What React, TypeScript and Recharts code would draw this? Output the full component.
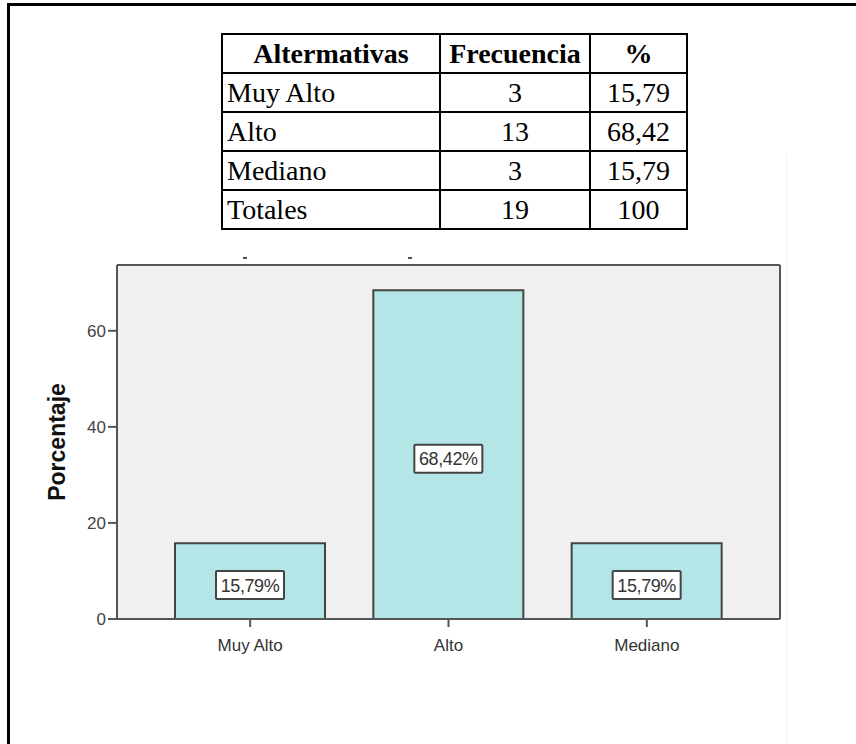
import { BarChart, Bar, XAxis, YAxis, CartesianGrid, LabelList } from 'recharts';

const categories = ['Muy Alto', 'Alto', 'Mediano'];
const percentages = [15.79, 68.42, 15.79];
const frequencies = [3, 13, 3];
const pctLabels = ['15,79', '68,42', '15,79'];
const yTicks = [0, 20, 40, 60];

const chartData = categories.map((name, i) => ({ name, value: percentages[i] }));

const tableRows = [
  ...categories.map((c, i) => [c, String(frequencies[i]), pctLabels[i]]),
  ['Totales', '19', '100'],
];

const axisColor = '#555';
const sans = 'Liberation Sans, Arial, sans-serif';

function ValueBox(props: any) {
  const { x, y, width, height, value } = props;
  const cx = x + width / 2;
  const cy = y + height / 2 + 4;
  const w = 68;
  const h = 28;
  const text = String(value.toFixed(2)).replace('.', ',') + '%';
  return (
    <g>
      <rect x={cx - w / 2} y={cy - h / 2} width={w} height={h} fill="#fff" stroke="#444" strokeWidth={2} rx={1} />
      <text x={cx} y={cy + 6.5} textAnchor="middle" fontSize={18} fill="#333" fontFamily={sans} letterSpacing={-0.4}>
        {text}
      </text>
    </g>
  );
}

const cell: React.CSSProperties = {
  border: '2px solid #000',
  padding: '0 4px',
  height: 37,
  lineHeight: '37px',
};

export default function App() {
  return (
    <div style={{ position: 'absolute', left: 0, top: 0, width: 856, height: 744, background: '#fff', overflow: 'hidden' }}>
      <div style={{ position: 'absolute', left: 7, top: 3, width: 849, height: 3, background: '#000' }} />
      <div style={{ position: 'absolute', left: 7, top: 3, width: 3, height: 741, background: '#000' }} />
      <div style={{ position: 'absolute', left: 786, top: 155, width: 1, height: 589, background: '#f2f2f2' }} />
      <div style={{ position: 'absolute', left: 243, top: 257, width: 4, height: 2, background: '#555' }} />
      <div style={{ position: 'absolute', left: 408, top: 257, width: 4, height: 2, background: '#555' }} />

      <div style={{ position: 'absolute', left: 0, top: 0 }}>
        <BarChart
          width={856}
          height={744}
          data={chartData}
          margin={{ top: 264, right: 75, bottom: 95, left: 57 }}
        >
          <CartesianGrid fill="#f0f0f0" stroke="none" horizontal={false} vertical={false} />
          <XAxis
            dataKey="name"
            padding={{ left: 34, right: 34 }}
            height={30}
            stroke={axisColor}
            axisLine={{ stroke: axisColor, strokeWidth: 2 }}
            tickLine={{ stroke: axisColor, strokeWidth: 2 }}
            tickSize={8}
            tickMargin={12}
            tick={{ fill: '#333', fontSize: 17, fontFamily: sans }}
          />
          <XAxis
            xAxisId="top"
            dataKey="name"
            orientation="top"
            height={1}
            tick={false}
            tickLine={false}
            axisLine={{ stroke: axisColor, strokeWidth: 2 }}
          />
          <YAxis
            domain={[0, 73.7]}
            ticks={yTicks}
            width={60}
            axisLine={{ stroke: axisColor, strokeWidth: 2 }}
            tickLine={{ stroke: axisColor, strokeWidth: 2 }}
            tickSize={9}
            tickMargin={2}
            tick={{ fill: '#444', fontSize: 17, fontFamily: sans }}
            label={{
              value: 'Porcentaje',
              angle: -90,
              position: 'insideLeft',
              offset: 0,
              style: { textAnchor: 'middle', fontWeight: 'bold', fontSize: 23, fill: '#111', fontFamily: sans },
            }}
          />
          <YAxis
            yAxisId="right"
            orientation="right"
            width={1}
            domain={[0, 73.7]}
            tick={false}
            tickLine={false}
            axisLine={{ stroke: axisColor, strokeWidth: 2 }}
          />
          <Bar dataKey="value" barSize={150} fill="#b4e6e8" stroke="#444" strokeWidth={2} isAnimationActive={false}>
            <LabelList dataKey="value" content={ValueBox} />
          </Bar>
        </BarChart>
      </div>

      <table
        style={{
          position: 'absolute',
          left: 221,
          top: 33,
          borderCollapse: 'collapse',
          fontFamily: '"Liberation Serif", "Times New Roman", serif',
          fontSize: 28,
          color: '#000',
        }}
      >
        <thead>
          <tr>
            <th style={{ ...cell, width: 208 }}>Altermativas</th>
            <th style={{ ...cell, width: 140 }}>Frecuencia</th>
            <th style={{ ...cell, width: 87 }}>%</th>
          </tr>
        </thead>
        <tbody>
          {tableRows.map((r) => (
            <tr key={r[0]}>
              <td style={{ ...cell, textAlign: 'left' }}>{r[0]}</td>
              <td style={{ ...cell, textAlign: 'center' }}>{r[1]}</td>
              <td style={{ ...cell, textAlign: 'center' }}>{r[2]}</td>
            </tr>
          ))}
        </tbody>
      </table>
    </div>
  );
}
